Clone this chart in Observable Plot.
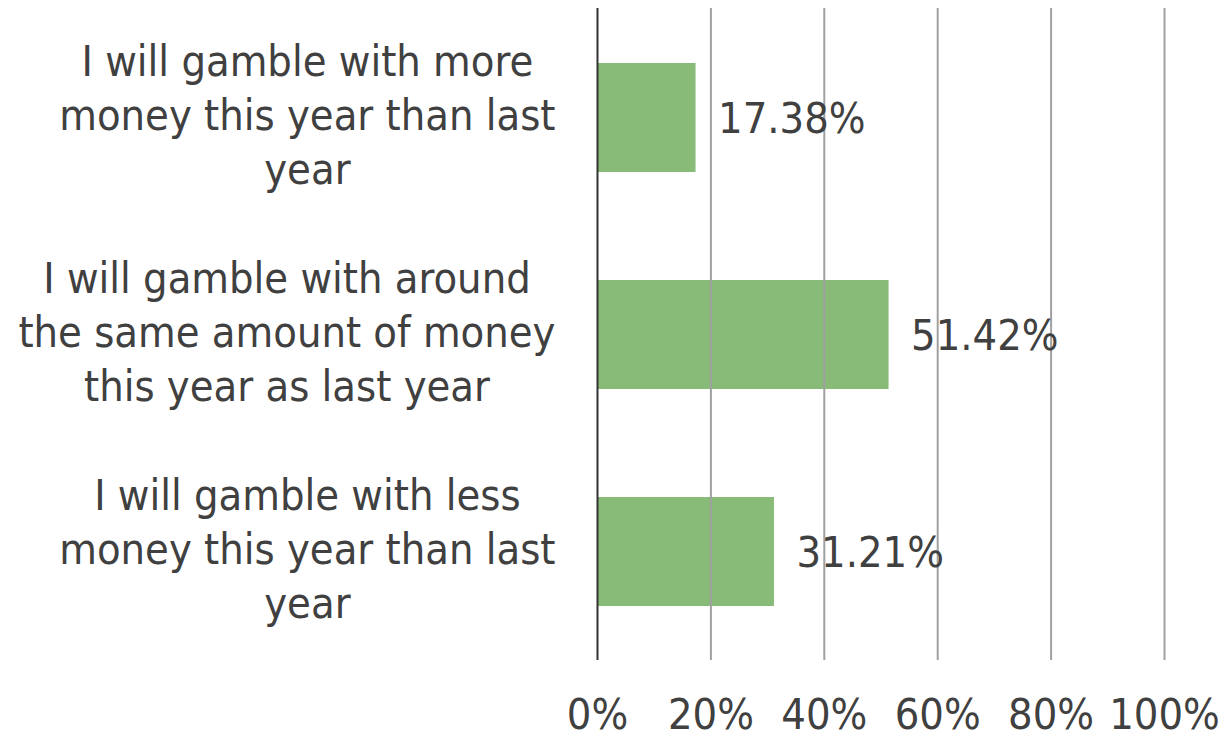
<!DOCTYPE html>
<html>
<head>
<meta charset="utf-8">
<script src="https://cdn.jsdelivr.net/npm/d3@7"></script>
<script src="https://cdn.jsdelivr.net/npm/@observablehq/plot@0.6"></script>
<style>
  html, body { margin: 0; padding: 0; background: #fff; }
  #chart svg { display: block; }
</style>
</head>
<body>
<div id="chart"></div>
<script>
const categories = [
  "I will gamble with more\nmoney this year than last\nyear",
  "I will gamble with around\nthe same amount of money\nthis year as last year",
  "I will gamble with less\nmoney this year than last\nyear"
];
const values = [17.38, 51.42, 31.21];
const xTicks = [0, 20, 40, 60, 80, 100];

const data = categories.map((c, i) => ({category: c, value: values[i]}));
const FONT = "'DejaVu Sans Condensed', 'DejaVu Sans', sans-serif";
const FS = 43;
const marginLeft = 597;
const labelRight = 555; // right edge of the category label block

// measure widest line of each label to center lines within a right-aligned block
const ctx = document.createElement("canvas").getContext("2d");
ctx.font = `${FS}px ${FONT}`;
const labelDx = c => {
  const w = d3.max(c.split("\n"), l => ctx.measureText(l).width);
  return (labelRight - w / 2) - marginLeft;
};

const chart = Plot.plot({
  width: 1228,
  height: 740,
  marginLeft,
  marginRight: 64,
  marginTop: 8,
  marginBottom: 80,
  style: {fontFamily: FONT, fontSize: FS + "px", color: "#404040", background: "#fff"},
  x: {domain: [0, 100], ticks: xTicks},
  y: {domain: categories, paddingInner: 0.5, paddingOuter: 0.25},
  marks: [
    Plot.barX(data, {x: "value", y: "category", fill: "#88bb77"}),
    Plot.ruleX(xTicks.filter(d => d > 0), {stroke: "#a0a0a0", strokeWidth: 2}),
    Plot.ruleX([0], {stroke: "#333333", strokeWidth: 2}),
    Plot.text(data, {x: "value", y: "category", text: d => d.value.toFixed(2) + "%", textAnchor: "start", dx: 22, dy: 1, fill: "#404040", fontSize: FS}),
    ...categories.map(c => Plot.axisY([c], {anchor: "left", tickSize: 0, tickPadding: 0, textAnchor: "middle", dx: labelDx(c), dy: -5, lineHeight: 1.25, fontSize: FS, fill: "#404040", label: null})),
    Plot.axisX({anchor: "bottom", ticks: xTicks, tickSize: 0, tickPadding: 38, tickFormat: d => d + "%", fontSize: FS, fill: "#404040", label: null})
  ]
});
document.getElementById("chart").appendChild(chart);
</script>
</body>
</html>
